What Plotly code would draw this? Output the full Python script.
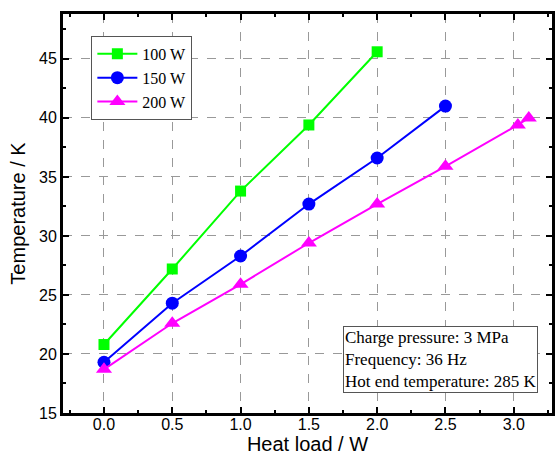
import plotly.graph_objects as go

x_100 = [0.0, 0.5, 1.0, 1.5, 2.0]
y_100 = [20.8, 27.2, 33.8, 39.4, 45.6]
x_150 = [0.0, 0.5, 1.0, 1.5, 2.0, 2.5]
y_150 = [19.3, 24.3, 28.3, 32.7, 36.6, 41.0]
x_200 = [0.0, 0.5, 1.0, 1.5, 2.0, 2.5, 3.03, 3.11]
y_200 = [18.7, 22.6, 25.9, 29.4, 32.7, 35.9, 39.4, 40.0]

series = [
    ("100 W", x_100, y_100, "#00FF00", "square", 11),
    ("150 W", x_150, y_150, "#0000FF", "circle", 13),
    ("200 W", x_200, y_200, "#FF00FF", "triangle-up", 14),
]

fig = go.Figure()
for name, xs, ys, col, sym, sz in series:
    fig.add_trace(go.Scatter(
        x=xs, y=ys, name=name, mode="lines+markers",
        line=dict(color=col, width=2),
        marker=dict(color=col, symbol=sym, size=sz, line=dict(width=0)),
    ))

axis_common = dict(
    showline=True, linecolor="black", linewidth=3, mirror="ticks",
    ticks="inside", ticklen=6, tickwidth=2, tickcolor="black",
    showgrid=True, gridcolor="#999999", griddash="dash", gridwidth=1,
    zeroline=False,
    tickfont=dict(family="Liberation Sans, Arial", size=16, color="black"),
    title_font=dict(family="Liberation Sans, Arial", size=20, color="black"),
)

fig.update_xaxes(
    range=[-0.3, 3.28], dtick=0.5, tick0=0, tickformat=".1f",
    title_text="Heat load / W", title_standoff=0, ticklabelstandoff=-5,
    minor=dict(ticks="inside", ticklen=3, tickcolor="black", dtick=0.25, tick0=0, showgrid=False),
    **axis_common,
)
fig.update_yaxes(
    range=[15, 48.8], dtick=5, tick0=15,
    title_text="Temperature / K", title_standoff=9,
    minor=dict(ticks="inside", ticklen=3, tickcolor="black", dtick=2.5, tick0=15, showgrid=False),
    **axis_common,
)

fig.add_annotation(
    xref="paper", yref="paper", x=0.572, y=0.218, xanchor="left", yanchor="top",
    align="left", showarrow=False,
    text="Charge pressure: 3 MPa<br>Frequency: 36 Hz<br>Hot end temperature: 285 K",
    font=dict(family="Liberation Serif, Times New Roman", size=17, color="black"),
    bordercolor="#555555", borderwidth=1, borderpad=1, bgcolor="white",
)

fig.update_layout(
    width=557, height=461,
    margin=dict(l=63, r=2, t=14, b=48),
    plot_bgcolor="white", paper_bgcolor="white",
    legend=dict(
        x=0.058, y=0.945, xanchor="left", yanchor="top",
        font=dict(family="Liberation Serif, Times New Roman", size=16, color="black"),
        bordercolor="#555555", borderwidth=1, bgcolor="white",
        itemwidth=40, tracegroupgap=0,
    ),
    showlegend=True,
)

fig.write_html(
    "out.html",
    config={"displayModeBar": False},
    post_script="document.body.style.margin='0';document.body.style.overflow='hidden';",
)
